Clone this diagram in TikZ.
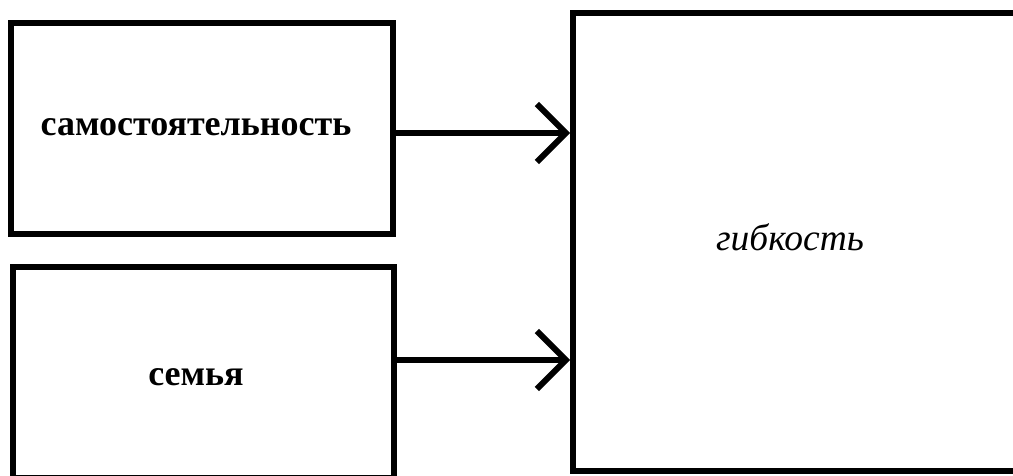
\documentclass[tikz,border=0pt]{standalone}
\usepackage{fontspec}
\setmainfont{Liberation Serif}
\usetikzlibrary{arrows.meta}
\begin{document}
\begin{tikzpicture}[x=1pt,y=-1pt,
  box/.style={draw=black,line width=6pt,rectangle,inner sep=0pt},
  lbl/.style={font=\fontsize{36}{40}\selectfont\bfseries,inner sep=0pt},
  conn/.style={line width=6pt,-{Straight Barb[length=29pt,width=58pt]}}]
\useasboundingbox (0,0) rectangle (1013,476);
\clip (0,0) rectangle (1013,476);
\node[box,minimum width=382pt,minimum height=211pt] (b1) at (202,128.5) {};
\node[box,minimum width=381pt,minimum height=211pt] (b2) at (203.5,372.5) {};
\node[box,minimum width=447pt,minimum height=458pt] (b3) at (796.5,242) {};
\node[lbl] (t1) at (196,127) {самостоятельность};
\node[lbl] (t2) at (196,377) {семья};
\node[lbl,font=\fontsize{37.5}{40}\selectfont\itshape] (t3) at (790,237) {гибкость};
\coordinate (s1) at ([yshift=-4.5pt]b1.east);
\coordinate (s2) at ([yshift=12.5pt]b2.east);
\draw[conn] (s1) -- (s1 -| b3.west);
\draw[conn] (s2) -- (s2 -| b3.west);
\end{tikzpicture}
\end{document}
